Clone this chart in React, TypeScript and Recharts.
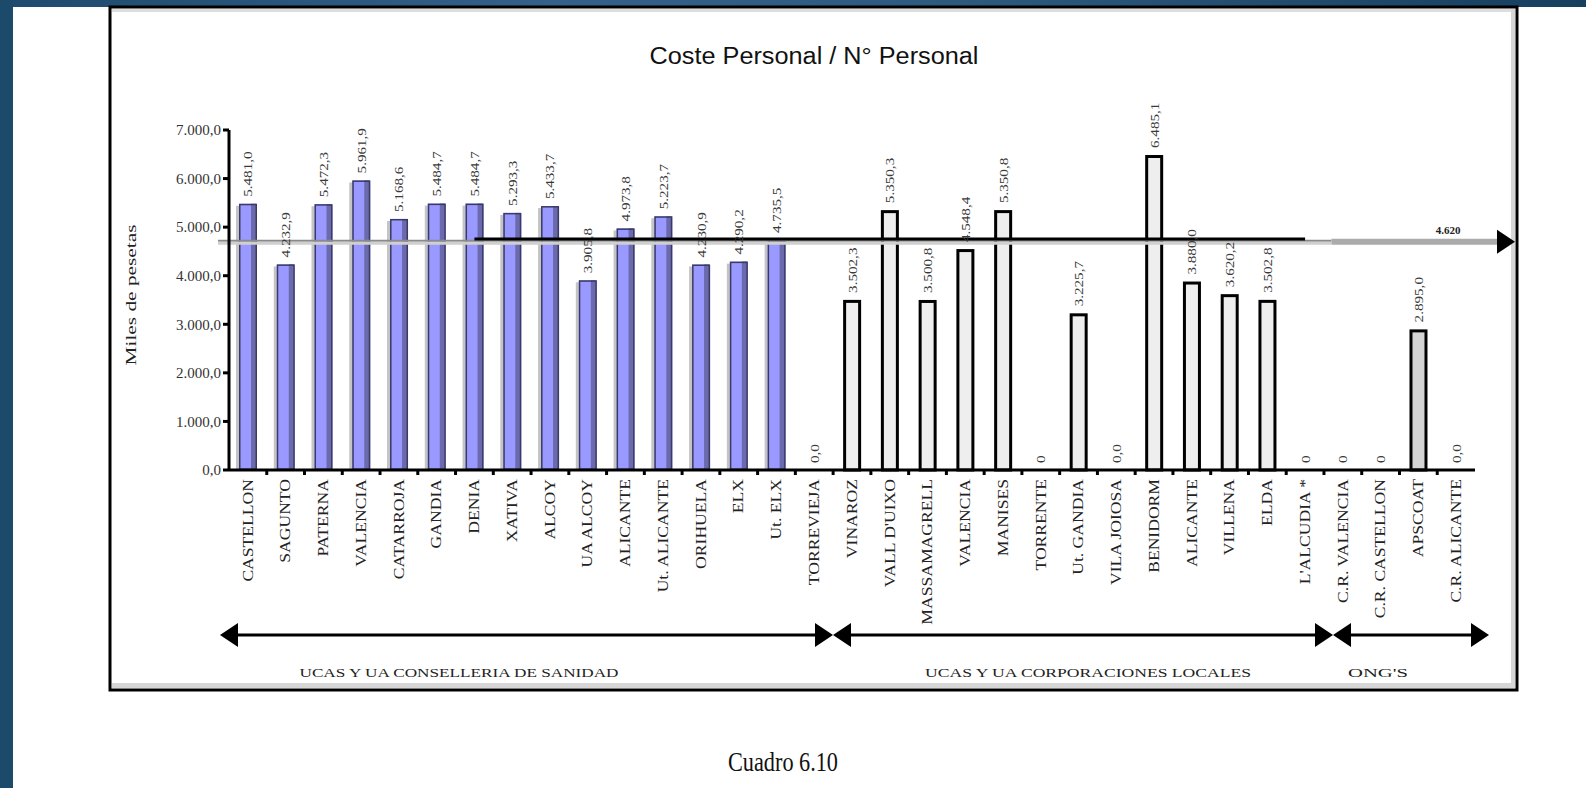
import React from "react";
import {
  BarChart,
  Bar,
  XAxis,
  YAxis,
  ReferenceLine,
  LabelList,
} from "recharts";

// --- data ---
const categories = [
  "CASTELLON", "SAGUNTO", "PATERNA", "VALENCIA", "CATARROJA", "GANDIA", "DENIA",
  "XATIVA", "ALCOY", "UA ALCOY", "ALICANTE", "Ut. ALICANTE", "ORIHUELA", "ELX",
  "Ut. ELX", "TORREVIEJA", "VINAROZ", "VALL D'UIXO", "MASSAMAGRELL", "VALENCIA",
  "MANISES", "TORRENTE", "Ut. GANDIA", "VILA JOIOSA", "BENIDORM", "ALICANTE",
  "VILLENA", "ELDA", "L'ALCUDIA *", "C.R. VALENCIA", "C.R. CASTELLON", "APSCOAT",
  "C.R. ALICANTE",
];

const values = [
  5481.0, 4232.9, 5472.3, 5961.9, 5168.6, 5484.7, 5484.7,
  5293.3, 5433.7, 3905.8, 4973.8, 5223.7, 4230.9, 4290.2,
  4735.5, 0, 3502.3, 5350.3, 3500.8, 4548.4,
  5350.8, 0, 3225.7, 0, 6485.1, 3880.0,
  3620.2, 3502.8, 0, 0, 0, 2895.0,
  0,
];

const valueLabels = [
  "5.481,0", "4.232,9", "5.472,3", "5.961,9", "5.168,6", "5.484,7", "5.484,7",
  "5.293,3", "5.433,7", "3.905,8", "4.973,8", "5.223,7", "4.230,9", "4.290,2",
  "4.735,5", "0,0", "3.502,3", "5.350,3", "3.500,8", "4.548,4",
  "5.350,8", "0", "3.225,7", "0,0", "6.485,1", "3.880,0",
  "3.620,2", "3.502,8", "0", "0", "0", "2.895,0",
  "0,0",
];

// which block each bar belongs to (colour)
const groups = [
  "san", "san", "san", "san", "san", "san", "san", "san", "san", "san", "san",
  "san", "san", "san", "san", "san",
  "loc", "loc", "loc", "loc", "loc", "loc", "loc", "loc", "loc", "loc", "loc",
  "loc", "loc",
  "ong", "ong", "ong", "ong",
];

const yTicks = [0, 1000, 2000, 3000, 4000, 5000, 6000, 7000];
const average = 4700;
const averageLabel = "4.620";
const blackLineValue = 4755;

const groupLabels = [
  "UCAS Y UA CONSELLERIA DE SANIDAD",
  "UCAS Y UA CORPORACIONES LOCALES",
  "ONG'S",
];

const data = categories.map((name, i) => ({
  key: String(i),
  name,
  value: values[i],
  label: valueLabels[i],
  group: groups[i],
}));

// --- layout ---
const W = 1586;
const H = 788;
const PLOT_LEFT = 229;
const PLOT_RIGHT = 1475;
const PLOT_TOP = 130;
const PLOT_BOTTOM = 470;
const XAXIS_H = 120;
const YAXIS_W = 120;
const BAND = (PLOT_RIGHT - PLOT_LEFT) / categories.length;

const SERIF = "'Liberation Serif', 'DejaVu Serif', serif";
const SANS = "'Liberation Sans', Arial, sans-serif";

function fmtTick(v: number) {
  const s = Math.round(v).toString().replace(/\B(?=(\d{3})+(?!\d))/g, ".");
  return s + ",0";
}

function BarShape(props: any) {
  const { x, y, width, height, payload } = props;
  if (!height || height <= 0) return null;
  if (payload.group === "san") {
    return (
      <g>
        <rect x={x - 3} y={y + 2} width={3} height={height - 2} fill="#c4c4c4" />
        <rect x={x} y={y} width={width} height={height} fill="#9999ff" />
        <rect x={x + width - 6} y={y} width={5} height={height} fill="#6a6aac" />
        <rect
          x={x + 0.75}
          y={y + 0.75}
          width={width - 1.5}
          height={height - 1.5}
          fill="none"
          stroke="#3a3a66"
          strokeWidth={1.5}
        />
      </g>
    );
  }
  const fill = payload.group === "ong" ? "#d3d3d3" : "#eeeeee";
  return (
    <rect
      x={x + 1.5}
      y={y + 1.5}
      width={width - 3}
      height={height - 1.5}
      fill={fill}
      stroke="#000"
      strokeWidth={3}
    />
  );
}

function ValueLabel(props: any) {
  const { x, y, width, value } = props;
  const cx = Number(x) + Number(width) / 2;
  const by = Number(y) - 7;
  return (
    <text
      transform={`translate(${cx},${by}) rotate(-90) scale(1.08,0.9)`}
      textAnchor="start"
      dy="0.35em"
      fontSize={14}
      fontFamily={SERIF}
      fill="#3a3a3a"
    >
      {value}
    </text>
  );
}

function CategoryTick(props: any) {
  const { x, y, payload, index } = props;
  const name = categories[Number(payload.value)] ?? "";
  const left = x - BAND / 2;
  return (
    <g>
      {index > 0 && (
        <line x1={left} y1={y} x2={left} y2={y + 5} stroke="#000" strokeWidth={3} />
      )}
      <text
        transform={`translate(${x},${y + 9}) rotate(-90) scale(1.1,0.85)`}
        textAnchor="end"
        dy="0.35em"
        fontSize={16}
        fontFamily={SERIF}
        fill="#222"
      >
        {name}
      </text>
    </g>
  );
}

function AverageLine(props: any) {
  const { x1, y1, x2 } = props;
  const split = PLOT_LEFT + 29.2 * BAND;
  const arrowBase = x2 + 22;
  const tip = x2 + 40;
  return (
    <g>
      <line x1={x1 - 11} y1={y1 - 1} x2={split} y2={y1 - 1} stroke="#8a8a8a" strokeWidth={2} />
      <line x1={x1 - 11} y1={y1 + 1.5} x2={split} y2={y1 + 1.5} stroke="#cfcfcf" strokeWidth={3} />
      <line x1={split} y1={y1} x2={arrowBase} y2={y1} stroke="#ababab" strokeWidth={6} />
      <polygon
        points={`${arrowBase},${y1 - 12} ${tip},${y1} ${arrowBase},${y1 + 12}`}
        fill="#000"
      />
      <text
        x={x2 - 27}
        y={y1 - 8}
        textAnchor="middle"
        fontSize={11}
        fontWeight="bold"
        fontFamily={SERIF}
        fill="#222"
      >
        {averageLabel}
      </text>
    </g>
  );
}

function Arrow({ x1, x2, y }: { x1: number; x2: number; y: number }) {
  const L = 18;
  const h = 12;
  return (
    <g>
      <line x1={x1 + L - 2} y1={y} x2={x2 - L + 2} y2={y} stroke="#000" strokeWidth={3} />
      <polygon points={`${x1},${y} ${x1 + L},${y - h} ${x1 + L},${y + h}`} fill="#000" />
      <polygon points={`${x2},${y} ${x2 - L},${y - h} ${x2 - L},${y + h}`} fill="#000" />
    </g>
  );
}

export default function App() {
  return (
    <div
      style={{
        position: "absolute",
        left: 0,
        top: 0,
        width: W,
        height: H,
        background: "#fff",
        overflow: "hidden",
      }}
    >
      {/* page background: blue band and strip of the slide */}
      <svg width={W} height={H} style={{ position: "absolute", left: 0, top: 0 }}>
        <defs>
          <linearGradient id="band" x1="0" y1="0" x2="1" y2="0">
            <stop offset="0%" stopColor="#1d4a6d" />
            <stop offset="35%" stopColor="#33618a" />
            <stop offset="60%" stopColor="#2d5a7f" />
            <stop offset="100%" stopColor="#173f5e" />
          </linearGradient>
        </defs>
        <rect x={0} y={0} width={W} height={7} fill="url(#band)" />
        <rect x={0} y={0} width={13} height={H} fill="#1c4a6b" />
        <rect x={112} y={9} width={1403} height={3} fill="#dedede" />
        <rect x={112} y={683} width={1403} height={5} fill="#d6d6d6" />
        <rect x={1511} y={9} width={4} height={679} fill="#d6d6d6" />
      </svg>

      <div style={{ position: "absolute", left: 0, top: 0 }}>
        <BarChart
          width={W}
          height={H}
          data={data}
          margin={{
            top: PLOT_TOP,
            right: W - PLOT_RIGHT,
            bottom: H - PLOT_BOTTOM - XAXIS_H,
            left: PLOT_LEFT - YAXIS_W,
          }}
          barSize={18}
        >
          <XAxis
            dataKey="key"
            height={XAXIS_H}
            interval={0}
            axisLine={{ stroke: "#000", strokeWidth: 3 }}
            tickLine={false}
            tickSize={0}
            tickMargin={0}
            tick={<CategoryTick />}
          />
          <YAxis
            width={YAXIS_W}
            domain={[0, 7000]}
            ticks={yTicks}
            interval={0}
            axisLine={{ stroke: "#000", strokeWidth: 3 }}
            tickLine={{ stroke: "#000", strokeWidth: 3 }}
            tickSize={6}
            tickMargin={2}
            tickFormatter={fmtTick}
            tick={{ fontSize: 15, fontFamily: SERIF, fill: "#333" }}
          />
          <Bar dataKey="value" shape={<BarShape />} isAnimationActive={false}>
            <LabelList dataKey="label" content={<ValueLabel />} />
          </Bar>
          <ReferenceLine y={average} shape={<AverageLine />} ifOverflow="visible" />
          <ReferenceLine
            segment={[
              { x: "6", y: blackLineValue },
              { x: "28", y: blackLineValue },
            ]}
            stroke="#000"
            strokeWidth={3}
            ifOverflow="visible"
          />
        </BarChart>
      </div>

      {/* frame, titles and group annotations */}
      <svg
        width={W}
        height={H}
        style={{ position: "absolute", left: 0, top: 0, pointerEvents: "none" }}
      >
        <rect x={110} y={7} width={1407} height={683} fill="none" stroke="#000" strokeWidth={3} />
        <text
          x={814}
          y={64}
          textAnchor="middle"
          fontSize={23}
          fontFamily={SANS}
          fill="#111"
          textLength={329}
          lengthAdjust="spacingAndGlyphs"
        >
          Coste Personal / N° Personal
        </text>
        <text
          transform="translate(131,295) rotate(-90)"
          textAnchor="middle"
          dy="0.35em"
          fontSize={15}
          fontFamily={SERIF}
          fill="#222"
          textLength={141}
          lengthAdjust="spacingAndGlyphs"
        >
          Miles de pesetas
        </text>

        <Arrow x1={220} x2={833} y={635} />
        <Arrow x1={833} x2={1333} y={635} />
        <Arrow x1={1333} x2={1489} y={635} />

        <text x={459} y={677} textAnchor="middle" fontSize={13} fontFamily={SERIF} fill="#222"
          textLength={319} lengthAdjust="spacingAndGlyphs">
          {groupLabels[0]}
        </text>
        <text x={1088} y={677} textAnchor="middle" fontSize={13} fontFamily={SERIF} fill="#222"
          textLength={326} lengthAdjust="spacingAndGlyphs">
          {groupLabels[1]}
        </text>
        <text x={1378} y={677} textAnchor="middle" fontSize={13} fontFamily={SERIF} fill="#222"
          textLength={60} lengthAdjust="spacingAndGlyphs">
          {groupLabels[2]}
        </text>

        <text
          x={783}
          y={771}
          textAnchor="middle"
          fontSize={27}
          fontFamily={SERIF}
          fill="#111"
          textLength={110}
          lengthAdjust="spacingAndGlyphs"
        >
          Cuadro 6.10
        </text>
      </svg>
    </div>
  );
}
